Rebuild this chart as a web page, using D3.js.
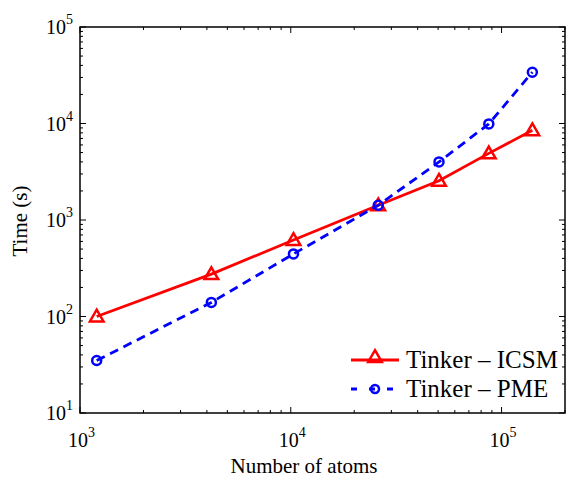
<!DOCTYPE html>
<html>
<head>
<meta charset="utf-8">
<script src="https://cdn.jsdelivr.net/npm/d3@7"></script>
<style>
  body { margin: 0; background: #fff; }
</style>
</head>
<body>
<div id="chart"></div>
<script>
// data
var atoms = [1200, 4200, 10300, 26000, 50500, 87000, 140000];
var icsm  = [100, 275, 620, 1420, 2550, 4900, 8500];
var pme   = [35, 140, 445, 1420, 4000, 9900, 34000];
var xTicks = [1e3, 1e4, 1e5];
var yTicks = [1e1, 1e2, 1e3, 1e4, 1e5];
var seriesNames = ["Tinker \u2013 ICSM", "Tinker \u2013 PME"];

var width = 568, height = 479;
var pLeft = 80, pRight = 565, pTop = 27, pBottom = 413;

var svg = d3.select("#chart").append("svg")
  .attr("width", width).attr("height", height)
  .attr("font-family", "'Liberation Serif', 'Times New Roman', serif");

var x = d3.scaleLog().domain([1e3, 2e5]).range([pLeft, pRight]);
var y = d3.scaleLog().domain([1e1, 1e5]).range([pBottom, pTop]);

// minor ticks
function minors(lo, hi){
  var out = [];
  for (var e = lo; e < hi; e++){
    for (var k = 2; k <= 9; k++){
      out.push(k * Math.pow(10, e));
    }
  }
  return out;
}
var xMinor = minors(3, 6).filter(function(v){ return v <= 2e5; });
var yMinor = minors(1, 5);

var tk = svg.append("g").attr("stroke", "#000").attr("stroke-width", 1);
xMinor.forEach(function(v){
  tk.append("line").attr("x1", x(v)).attr("x2", x(v)).attr("y1", pBottom).attr("y2", pBottom - 3);
  tk.append("line").attr("x1", x(v)).attr("x2", x(v)).attr("y1", pTop).attr("y2", pTop + 3);
});
xTicks.forEach(function(v){
  tk.append("line").attr("x1", x(v)).attr("x2", x(v)).attr("y1", pBottom).attr("y2", pBottom - 6);
  tk.append("line").attr("x1", x(v)).attr("x2", x(v)).attr("y1", pTop).attr("y2", pTop + 6);
});
yMinor.forEach(function(v){
  tk.append("line").attr("y1", y(v)).attr("y2", y(v)).attr("x1", pLeft).attr("x2", pLeft + 3);
  tk.append("line").attr("y1", y(v)).attr("y2", y(v)).attr("x1", pRight).attr("x2", pRight - 3);
});
yTicks.forEach(function(v){
  tk.append("line").attr("y1", y(v)).attr("y2", y(v)).attr("x1", pLeft).attr("x2", pLeft + 6);
  tk.append("line").attr("y1", y(v)).attr("y2", y(v)).attr("x1", pRight).attr("x2", pRight - 6);
});

// frame
svg.append("rect")
  .attr("x", pLeft).attr("y", pTop)
  .attr("width", pRight - pLeft).attr("height", pBottom - pTop)
  .attr("fill", "none").attr("stroke", "#000").attr("stroke-width", 1.5);

// tick labels 10^n
function powLabel(g, v, px, py, anchor){
  var t = g.append("text").attr("x", px).attr("y", py)
    .attr("text-anchor", anchor).style("font-size", "20px");
  t.append("tspan").text("10");
  t.append("tspan").attr("dy", -10).style("font-size", "14px")
    .text(Math.round(Math.log10(v)));
}
var lab = svg.append("g");
xTicks.forEach(function(v){
  powLabel(lab, v, x(v) - 12, pBottom + 34, "start");
});
yTicks.forEach(function(v){
  powLabel(lab, v, pLeft - 7, y(v) + 7, "end");
});

// axis titles
svg.append("text")
  .attr("x", 304).attr("y", 473)
  .attr("text-anchor", "middle").style("font-size", "21px")
  .text("Number of atoms");
svg.append("text")
  .attr("transform", "translate(27," + 221 + ") rotate(-90)")
  .attr("text-anchor", "middle").style("font-size", "21px")
  .text("Time (s)");

var line = d3.line()
  .x(function(d){ return x(d[0]); })
  .y(function(d){ return y(d[1]); });

var red = "#ff0000", blue = "#0000ff";
var icsmPts = atoms.map(function(a, i){ return [a, icsm[i]]; });
var pmePts = atoms.map(function(a, i){ return [a, pme[i]]; });

var tri = d3.symbol().type(d3.symbolTriangle).size(80);

function drawPme(g, pts){
  g.append("path").datum(pts).attr("d", line)
    .attr("fill", "none").attr("stroke", blue).attr("stroke-width", 2.8)
    .attr("stroke-dasharray", "9,6");
  g.selectAll("circle").data(pts).enter().append("circle")
    .attr("cx", function(d){ return x(d[0]); })
    .attr("cy", function(d){ return y(d[1]); })
    .attr("r", 4.5)
    .attr("fill", "none").attr("stroke", blue).attr("stroke-width", 2.5);
}
function drawIcsm(g, pts){
  g.append("path").datum(pts).attr("d", line)
    .attr("fill", "none").attr("stroke", red).attr("stroke-width", 2.8);
  g.selectAll(".tri").data(pts).enter().append("path")
    .attr("class", "tri")
    .attr("d", tri)
    .attr("transform", function(d){ return "translate(" + x(d[0]) + "," + (y(d[1]) + 1) + ")"; })
    .attr("fill", "none").attr("stroke", red).attr("stroke-width", 2.5);
}

drawIcsm(svg.append("g"), icsmPts);
drawPme(svg.append("g"), pmePts);

// legend
var lg = svg.append("g");
var ly = [360, 389];
lg.append("line").attr("x1", 351).attr("x2", 399).attr("y1", ly[0]).attr("y2", ly[0])
  .attr("stroke", red).attr("stroke-width", 2.8);
lg.append("path").attr("d", tri)
  .attr("transform", "translate(375," + (ly[0] - 2) + ")")
  .attr("fill", "none").attr("stroke", red).attr("stroke-width", 2.5);
lg.append("line").attr("x1", 351).attr("x2", 399).attr("y1", ly[1]).attr("y2", ly[1])
  .attr("stroke", blue).attr("stroke-width", 2.8).attr("stroke-dasharray", "6,12")
  .attr("stroke-dashoffset", 0);
lg.append("circle").attr("cx", 375).attr("cy", ly[1]).attr("r", 4)
  .attr("fill", "none").attr("stroke", blue).attr("stroke-width", 2.5);
seriesNames.forEach(function(n, i){
  lg.append("text").attr("x", 406).attr("y", ly[i] + 8)
    .style("font-size", "25px").text(n);
});
</script>
</body>
</html>
